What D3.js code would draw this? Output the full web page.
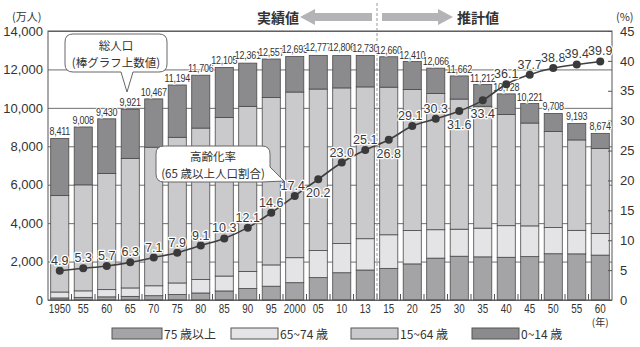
<!DOCTYPE html>
<html><head><meta charset="utf-8">
<script src="https://cdn.jsdelivr.net/npm/d3@7/dist/d3.min.js"></script>
<style>
html,body{margin:0;padding:0;background:#fff;}
svg{display:block;}
</style></head>
<body>
<svg id="c" width="640" height="347"></svg>
<script>
// ---- data ----
const years = ["1950","55","60","65","70","75","80","85","90","95","2000","05","10","13","15","20","25","30","35","40","45","50","55","60"];
const totals = [8411,9008,9430,9921,10467,11194,11706,12105,12361,12557,12693,12777,12806,12730,12660,12410,12066,11662,11212,10728,10221,9708,9193,8674];
const age0_14 = [2979,3012,2843,2553,2515,2722,2751,2603,2249,2001,1847,1752,1680,1639,1583,1457,1324,1204,1129,1073,1012,939,861,791];
const age15_64 = [5017,5517,6047,6744,7212,7581,7883,8251,8590,8716,8622,8409,8103,7901,7682,7341,7085,6773,6343,5787,5353,5001,4706,4418];
const age65_74 = [309,338,376,439,516,603,699,776,892,1109,1301,1407,1517,1630,1749,1733,1479,1407,1495,1645,1600,1360,1224,1128];
const age75 = [107,138,164,189,224,284,366,471,597,717,901,1164,1419,1560,1646,1879,2179,2278,2245,2223,2257,2408,2401,2336];
const agingRate = [4.9,5.3,5.7,6.3,7.1,7.9,9.1,10.3,12.1,14.6,17.4,20.2,23.0,25.1,26.8,29.1,30.3,31.6,33.4,36.1,37.7,38.8,39.4,39.9];
const leftTicks = [0,2000,4000,6000,8000,10000,12000,14000];
const rightTicks = [0,5,10,15,20,25,30,35,40,45];
const seriesNames = ["75 歳以上","65~74 歳","15~64 歳","0~14 歳"];
const seriesColors = ["#a4a4a7","#e4e4e6","#cacacc","#8b8b8e"];

// ---- build ----
const svg = d3.select("#c");
const L = 48, R = 612, T = 31, B = 300;
const numFont = "'Liberation Sans', Arial, 'Noto Sans', sans-serif";
const jpFont = "'Noto Sans CJK JP', 'Noto Sans', sans-serif";

const x = d3.scaleBand().domain(d3.range(years.length)).range([L, R]).paddingInner(0.23).paddingOuter(0.115);
const y = d3.scaleLinear().domain([0, 14000]).range([B, T]);
const y2 = d3.scaleLinear().domain([0, 45]).range([B, T]);

const rows = years.map((yr, i) => ({i, a75: age75[i], a65: age65_74[i], a15: age15_64[i], a0: age0_14[i]}));
const keys = ["a75","a65","a15","a0"];
const stacked = d3.stack().keys(keys)(rows);

// gridlines
svg.append("g").attr("transform", `translate(${L},0)`)
  .call(d3.axisLeft(y).tickValues(leftTicks).tickSize(-(R - L)).tickFormat(""))
  .call(g => g.select(".domain").remove())
  .call(g => g.selectAll("line").attr("stroke", "#6e6e6e").attr("stroke-width", 1));

// bars
svg.append("g").selectAll("g").data(stacked).join("g")
  .attr("fill", (d, k) => seriesColors[k])
  .selectAll("rect").data(d => d).join("rect")
  .attr("x", d => x(d.data.i))
  .attr("width", x.bandwidth())
  .attr("y", d => y(d[1]))
  .attr("height", d => y(d[0]) - y(d[1]))
  .attr("stroke", "#4a4a4a").attr("stroke-width", 0.8);

// frame
svg.append("rect").attr("x", L).attr("y", T).attr("width", R - L).attr("height", B - T)
  .attr("fill", "none").attr("stroke", "#555").attr("stroke-width", 1);

// bottom ticks between bars
const bounds = d3.range(years.length + 1).map(i => L + i * x.step());
svg.append("g").selectAll("line").data(bounds.slice(1, -1)).join("line")
  .attr("x1", d => d).attr("x2", d => d).attr("y1", B).attr("y2", B - 6)
  .attr("stroke", "#555").attr("stroke-width", 1);

// dashed divider
const divX = (x(13) + x.bandwidth() + x(14)) / 2;
svg.append("line").attr("x1", divX).attr("x2", divX).attr("y1", 3).attr("y2", B)
  .attr("stroke", "#999").attr("stroke-width", 1).attr("stroke-dasharray", "3,2");

// left axis labels
svg.append("g").attr("transform", `translate(${L},0)`)
  .call(d3.axisLeft(y).tickValues(leftTicks).tickSize(0).tickPadding(5).tickFormat(d3.format(",")))
  .call(g => g.select(".domain").remove())
  .call(g => g.selectAll("text").attr("font-size", 13).attr("font-family", numFont).attr("fill", "#333"));

// right axis
svg.append("g").attr("transform", `translate(${R},0)`)
  .call(d3.axisRight(y2).tickValues(rightTicks).tickSize(-4).tickPadding(8))
  .call(g => g.select(".domain").remove())
  .call(g => g.selectAll("line").attr("stroke", "#555"))
  .call(g => g.selectAll("text").attr("font-size", 13).attr("font-family", numFont).attr("fill", "#333"));

// x axis labels
svg.append("g").attr("transform", `translate(0,${B})`)
  .call(d3.axisBottom(x).tickSize(0).tickPadding(4).tickFormat(i => years[i]))
  .call(g => g.select(".domain").remove())
  .call(g => g.selectAll("text").attr("font-size", 12).attr("font-family", numFont).attr("fill", "#333")
      .attr("transform", "scale(0.82,1)"));

svg.append("text").attr("x", x(23) + x.bandwidth() / 2).attr("y", 326).attr("text-anchor", "middle")
  .attr("font-size", 10).attr("font-family", jpFont).attr("fill", "#333").text("(年)");

// units
svg.append("text").attr("x", 12).attr("y", 21).attr("font-size", 11).attr("font-family", jpFont).attr("fill", "#333").text("(万人)");
svg.append("text").attr("x", 616).attr("y", 21).attr("font-size", 11).attr("font-family", jpFont).attr("fill", "#333").text("(%)");

// total labels
svg.append("g").selectAll("text").data(totals).join("text")
  .attr("transform", (d, i) => `translate(${x(i) + x.bandwidth() / 2},${y(d) - 3}) scale(0.78,1)`)
  .attr("text-anchor", "middle").attr("font-size", 11.5).attr("font-family", numFont)
  .attr("fill", "#333").attr("letter-spacing", -0.3)
  .attr("stroke", "#fff").attr("stroke-width", 2).attr("paint-order", "stroke")
  .text(d => d3.format(",")(d));

// aging rate line
const cx = i => x(i) + x.bandwidth() / 2;
svg.append("path").datum(agingRate)
  .attr("d", d3.line().x((d, i) => cx(i)).y(d => y2(d)).curve(d3.curveMonotoneX))
  .attr("fill", "none").attr("stroke", "#3f3f3f").attr("stroke-width", 1.6);
svg.append("g").selectAll("circle").data(agingRate).join("circle")
  .attr("cx", (d, i) => cx(i)).attr("cy", d => y2(d)).attr("r", 4).attr("fill", "#3a3a3a");

const belowIdx = [11, 14, 17, 18];
svg.append("g").selectAll("text").data(agingRate).join("text")
  .attr("x", (d, i) => cx(i) + ((i === 10 || i === 15) ? -2 : 0))
  .attr("y", (d, i) => belowIdx.includes(i) ? y2(d) + 18 : y2(d) - 6)
  .attr("text-anchor", "middle").attr("font-size", 12.5).attr("font-family", numFont)
  .attr("fill", "#3a3a3a").attr("stroke", "#fff").attr("stroke-width", 2.5).attr("stroke-linejoin", "round")
  .attr("paint-order", "stroke")
  .text(d => d.toFixed(1));

// callouts
function callout(pathD, lines, cxp, y0, gap) {
  svg.append("path").attr("d", pathD).attr("fill", "#fff").attr("stroke", "#666").attr("stroke-width", 1);
  lines.forEach((t, k) => svg.append("text").attr("x", cxp).attr("y", y0 + k * gap)
    .attr("text-anchor", "middle").attr("font-size", 11.5).attr("font-family", jpFont).attr("fill", "#333").text(t));
}
// box 1
callout("M73,34 H159 Q167,34 167,42 V64 Q167,72 159,72 H133 L127,92 L121,72 H73 Q65,72 65,64 V42 Q65,34 73,34 Z",
  ["総人口", "(棒グラフ上数値)"], 116, 50, 17);
// box 2
callout("M164,146 H262 Q270,146 270,154 V167 L284,181 L262,182 H164 Q156,182 156,174 V154 Q156,146 164,146 Z",
  ["高齢化率", "(65 歳以上人口割合)"], 213, 161, 17);

// header arrows
svg.append("path").attr("d", "M300,17 L315,9 L315,13 L372,13 L372,21 L315,21 L315,25 Z").attr("fill", "#b4b4b6");
svg.append("path").attr("d", "M453,17 L438,9 L438,13 L382,13 L382,21 L438,21 L438,25 Z").attr("fill", "#b4b4b6");
svg.append("text").attr("x", 278).attr("y", 23).attr("text-anchor", "middle").attr("font-size", 14)
  .attr("font-weight", "bold").attr("font-family", jpFont).attr("fill", "#333").text("実績値");
svg.append("text").attr("x", 478).attr("y", 23).attr("text-anchor", "middle").attr("font-size", 14)
  .attr("font-weight", "bold").attr("font-family", jpFont).attr("fill", "#333").text("推計値");

// legend
const legX = [112, 231, 351, 472];
const leg = svg.append("g").selectAll("g").data(seriesNames).join("g")
  .attr("transform", (d, k) => `translate(${legX[k]},328)`);
leg.append("rect").attr("width", (d, k) => k === 0 ? 50 : 47).attr("height", 11)
  .attr("fill", (d, k) => seriesColors[k]).attr("stroke", "#555").attr("stroke-width", 1);
leg.append("text").attr("x", (d, k) => (k === 0 ? 50 : 47) + 2).attr("y", 10.5)
  .attr("font-size", 12).attr("font-family", jpFont).attr("fill", "#333").text(d => d);
</script>
</body></html>
